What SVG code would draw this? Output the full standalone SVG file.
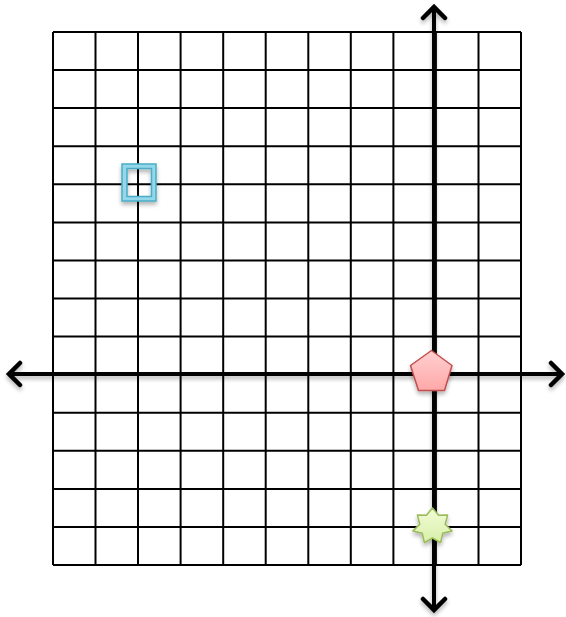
<svg xmlns="http://www.w3.org/2000/svg" width="566" height="617" viewBox="0 0 566 617">
<defs>
<filter id="sh" x="-20%" y="-20%" width="140%" height="140%">
<feGaussianBlur in="SourceAlpha" stdDeviation="2"/>
<feOffset dx="0" dy="3" result="b"/>
<feComponentTransfer><feFuncA type="linear" slope="0.3"/></feComponentTransfer>
<feMerge><feMergeNode/><feMergeNode in="SourceGraphic"/></feMerge>
</filter>
<linearGradient id="pg" x1="0" y1="0" x2="0" y2="1">
<stop offset="0" stop-color="#ffd0d0"/><stop offset="1" stop-color="#ffa8a8"/>
</linearGradient>
<linearGradient id="gg" x1="0" y1="0" x2="0" y2="1">
<stop offset="0" stop-color="#f2fbd8"/><stop offset="1" stop-color="#d8f0a8"/>
</linearGradient>
<marker id="ah" viewBox="-14 -14 28 28" markerWidth="28" markerHeight="28" markerUnits="userSpaceOnUse" refX="0" refY="0" orient="auto-start-reverse">
<path d="M-11,-11 L0,0 L-11,11" fill="none" stroke="#000" stroke-width="4.5" stroke-linecap="round" stroke-linejoin="miter"/>
</marker>
<style>
.grid line{stroke:#000;stroke-width:2}
.axis{stroke:#000;stroke-width:4;fill:none}
</style>
</defs>
<g id="grid" class="grid">
<line x1="53" y1="32" x2="53" y2="565"/>
<line x1="95.5" y1="32" x2="95.5" y2="565"/>
<line x1="138" y1="32" x2="138" y2="565"/>
<line x1="180.6" y1="32" x2="180.6" y2="565"/>
<line x1="223.2" y1="32" x2="223.2" y2="565"/>
<line x1="265.7" y1="32" x2="265.7" y2="565"/>
<line x1="308.3" y1="32" x2="308.3" y2="565"/>
<line x1="350.8" y1="32" x2="350.8" y2="565"/>
<line x1="393.4" y1="32" x2="393.4" y2="565"/>
<line x1="435.9" y1="32" x2="435.9" y2="565"/>
<line x1="478.5" y1="32" x2="478.5" y2="565"/>
<line x1="521" y1="32" x2="521" y2="565"/>
<line x1="53" y1="32" x2="521" y2="32"/>
<line x1="53" y1="70.1" x2="521" y2="70.1"/>
<line x1="53" y1="108.1" x2="521" y2="108.1"/>
<line x1="53" y1="146.2" x2="521" y2="146.2"/>
<line x1="53" y1="184.3" x2="521" y2="184.3"/>
<line x1="53" y1="222.4" x2="521" y2="222.4"/>
<line x1="53" y1="260.4" x2="521" y2="260.4"/>
<line x1="53" y1="298.5" x2="521" y2="298.5"/>
<line x1="53" y1="336.6" x2="521" y2="336.6"/>
<line x1="53" y1="374.6" x2="521" y2="374.6"/>
<line x1="53" y1="412.7" x2="521" y2="412.7"/>
<line x1="53" y1="450.8" x2="521" y2="450.8"/>
<line x1="53" y1="488.9" x2="521" y2="488.9"/>
<line x1="53" y1="526.9" x2="521" y2="526.9"/>
<line x1="53" y1="565" x2="521" y2="565"/>
</g>
<g id="connectors" filter="url(#sh)">
<line class="axis" x1="434" y1="7" x2="434" y2="610" marker-start="url(#ah)" marker-end="url(#ah)"/>
<line class="axis" x1="9" y1="374" x2="562" y2="374" marker-start="url(#ah)" marker-end="url(#ah)"/>
</g>
<g id="frame" filter="url(#sh)">
<path d="M122,164 H156 V201 H122 Z M127,168.5 V196.5 H151.5 V168.5 Z" fill="#93d8ea" fill-rule="evenodd" stroke="#4bacc6" stroke-width="1.5"/>
</g>
<g id="pentagon" filter="url(#sh)">
<polygon points="431.5,350.5 452,365.5 444.5,390.5 418.5,390.5 410.5,365.5" fill="url(#pg)" stroke="#c0504d" stroke-width="1.5" stroke-linejoin="round"/>
</g>
<g id="star" filter="url(#sh)">
<polygon points="432.5,508 438.6,515.3 447.6,515.1 445.2,524.2 452,530.9 442.7,533.3 440.6,542.6 432.5,538 424.4,542.6 422.3,533.3 413,530.9 419.8,524.2 417.4,515.1 426.4,515.3" fill="url(#gg)" stroke="#9bbb59" stroke-width="1.5" stroke-linejoin="round"/>
</g>
</svg>
